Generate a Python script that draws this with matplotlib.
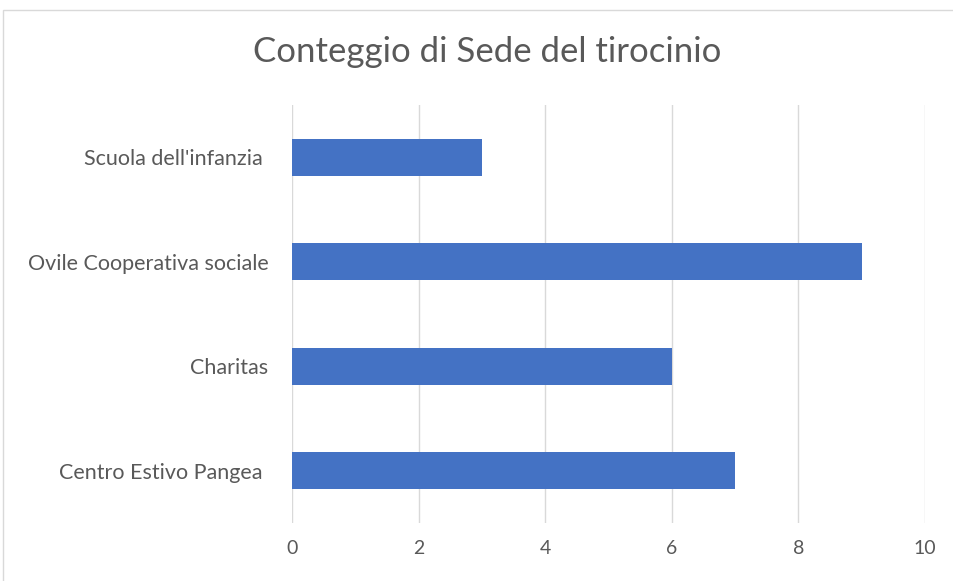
import matplotlib.pyplot as plt
from matplotlib.patches import Rectangle

categorie = ["Centro Estivo Pangea ", "Charitas", "Ovile Cooperativa sociale", "Scuola dell'infanzia "]
conteggi = [7, 6, 9, 3]
xticks = [0, 2, 4, 6, 8, 10]

plt.rcParams['font.family'] = ['Lato', 'DejaVu Sans']
testo = '#595959'

fig = plt.figure(figsize=(9.54, 5.81), dpi=100)
ax = fig.add_axes([0.3061, 0.0998, 0.6635, 0.7194])

ax.barh(categorie, conteggi, height=0.355, color='#4472C4', zorder=3)
ax.set_xlim(0, 10)
ax.set_ylim(-0.5, len(categorie) - 0.5)
ax.set_xticks(xticks)
ax.grid(axis='x', color='#D9D9D9', linewidth=1, zorder=0)
for s in ax.spines.values():
    s.set_visible(False)
ax.tick_params(axis='both', length=0, colors=testo)
ax.tick_params(axis='x', pad=12, labelsize=14)
ax.tick_params(axis='y', pad=17, labelsize=15.5)

fig.text(0.511, 0.91, "Conteggio di Sede del tirocinio", ha='center', va='center',
         fontsize=25, color=testo)

fig.patches.append(Rectangle((3.5 / 954, -0.1), 1.2, 1 - 9.5 / 581 + 0.1,
                             transform=fig.transFigure, fill=False,
                             edgecolor='#D9D9D9', linewidth=1))

plt.savefig("out.png", dpi=100)
